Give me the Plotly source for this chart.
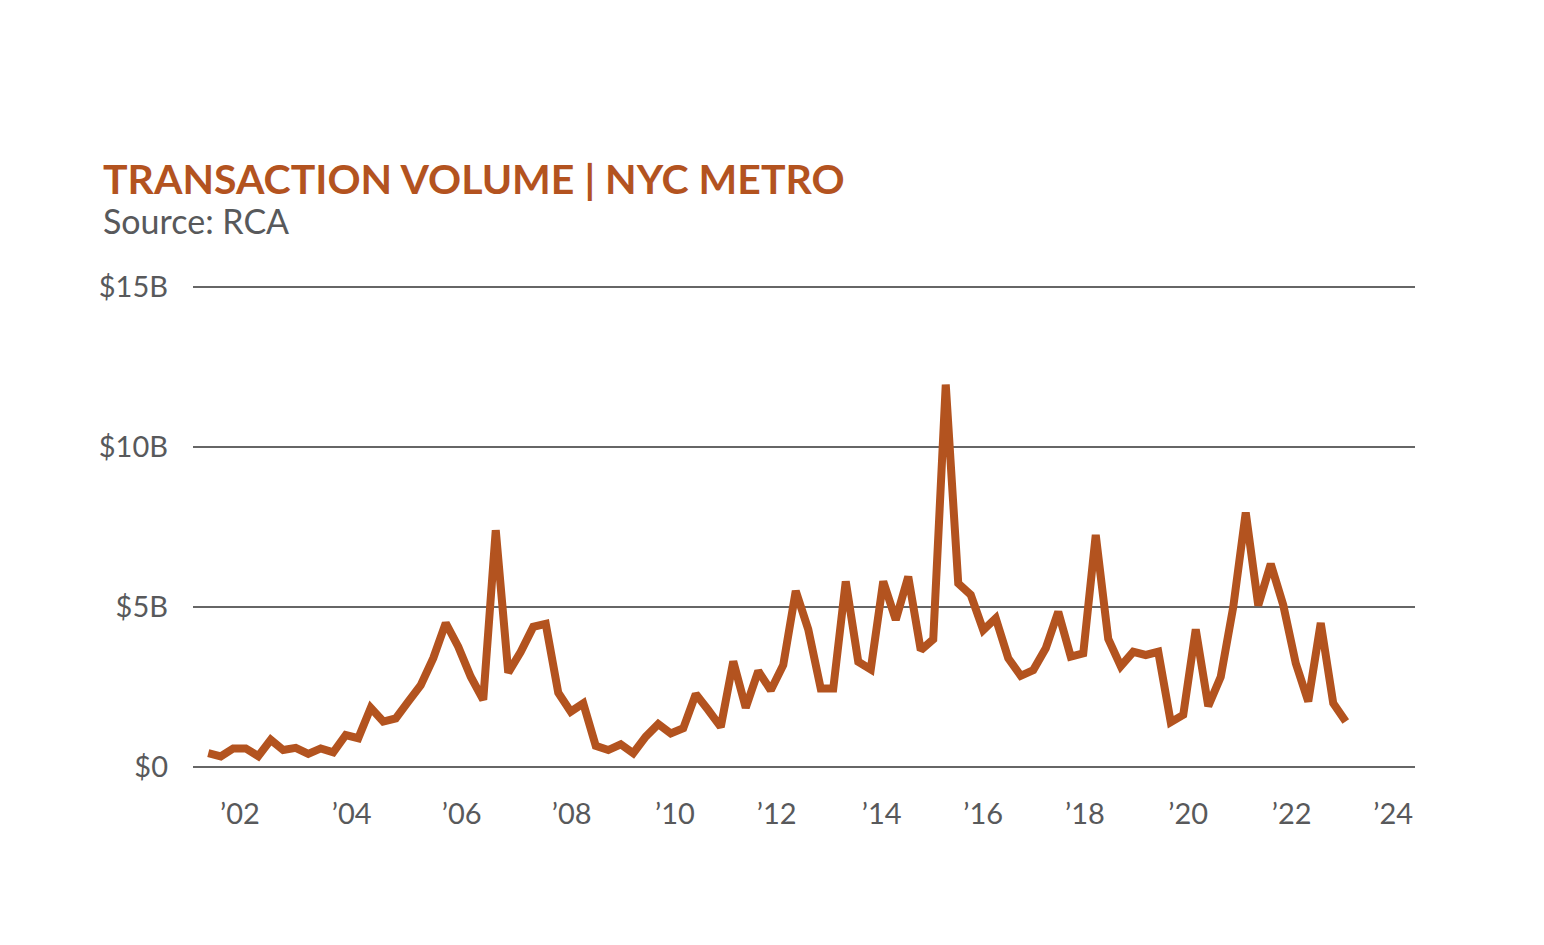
import numpy as np
import plotly.graph_objects as go

# quarterly transaction volume, $B
quarters = [f"{y}Q{q}" for y in range(2001, 2024) for q in range(1, 5)]
volume_b = [
    0.43, 0.33, 0.58, 0.58, 0.34, 0.85, 0.53, 0.60, 0.41, 0.58, 0.46, 1.00,
    0.90, 1.85, 1.42, 1.52, 2.04, 2.56, 3.40, 4.50, 3.76, 2.82, 2.10, 7.40,
    2.95, 3.60, 4.38, 4.47, 2.32, 1.73, 1.99, 0.66, 0.53, 0.71, 0.43, 0.95,
    1.34, 1.05, 1.21, 2.28, 1.78, 1.25, 3.30, 1.85, 3.00, 2.40, 3.19, 5.50,
    4.30, 2.45, 2.45, 5.80, 3.29, 3.05, 5.80, 4.60, 5.95, 3.65, 3.99, 11.95,
    5.74, 5.38, 4.28, 4.65, 3.40, 2.85, 3.03, 3.71, 4.85, 3.45, 3.55, 7.25,
    4.00, 3.15, 3.60, 3.50, 3.60, 1.40, 1.63, 4.30, 1.90, 2.82, 5.00, 7.95,
    5.05, 6.35, 5.06, 3.24, 2.05, 4.50, 1.99, 1.42,
]
year_labels = ["’02", "’04", "’06", "’08", "’10", "’12", "’14", "’16", "’18", "’20", "’22", "’24"]
y_ticks = [0, 5, 10, 15]
y_tick_labels = ["$0", "$5B", "$10B", "$15B"]

ORANGE = "#b3531f"
GREY = "#58595b"
FONT = "Lato"

idx = np.arange(len(volume_b))
# label positions on the quarter index, matched to the original artwork
label_pos = [2.54, 11.47, 20.27, 29.07, 37.34, 45.47, 53.87, 62.0, 70.14, 78.4, 86.67, 94.8]

fig = go.Figure()
fig.add_trace(
    go.Scatter(
        x=idx,
        y=volume_b,
        customdata=quarters,
        mode="lines",
        line={"color": ORANGE, "width": 8},
        hovertemplate="%{customdata}: $%{y:.1f}B<extra></extra>",
        showlegend=False,
    )
)

fig.add_annotation(
    text="<b>TRANSACTION VOLUME | NYC METRO</b>",
    xref="paper", yref="paper", x=-0.0752, y=1.221,
    xanchor="left", yanchor="middle", showarrow=False,
    font={"family": FONT, "size": 41, "color": ORANGE},
)
fig.add_annotation(
    text="Source: RCA",
    xref="paper", yref="paper", x=-0.0752, y=1.133,
    xanchor="left", yanchor="middle", showarrow=False,
    font={"family": FONT, "size": 34, "color": GREY},
)

fig.update_layout(
    width=1544,
    height=945,
    margin={"l": 185, "r": 137, "t": 277, "b": 184},
    paper_bgcolor="white",
    plot_bgcolor="white",
    font={"family": FONT, "color": GREY, "size": 29},
    xaxis={
        "range": [-1.22, 96.54],
        "tickvals": label_pos,
        "ticktext": year_labels,
        "showgrid": False,
        "zeroline": False,
        "showline": False,
        "ticks": "",
        "ticklabelstandoff": 25,
    },
    yaxis={
        "range": [-0.0625, 15.0625],
        "tickvals": y_ticks,
        "ticktext": y_tick_labels,
        "showgrid": True,
        "gridcolor": "#666666",
        "gridwidth": 2,
        "zeroline": False,
        "showline": False,
        "ticks": "",
        "ticklabelstandoff": 24,
    },
)

fig.write_html("out.html")
